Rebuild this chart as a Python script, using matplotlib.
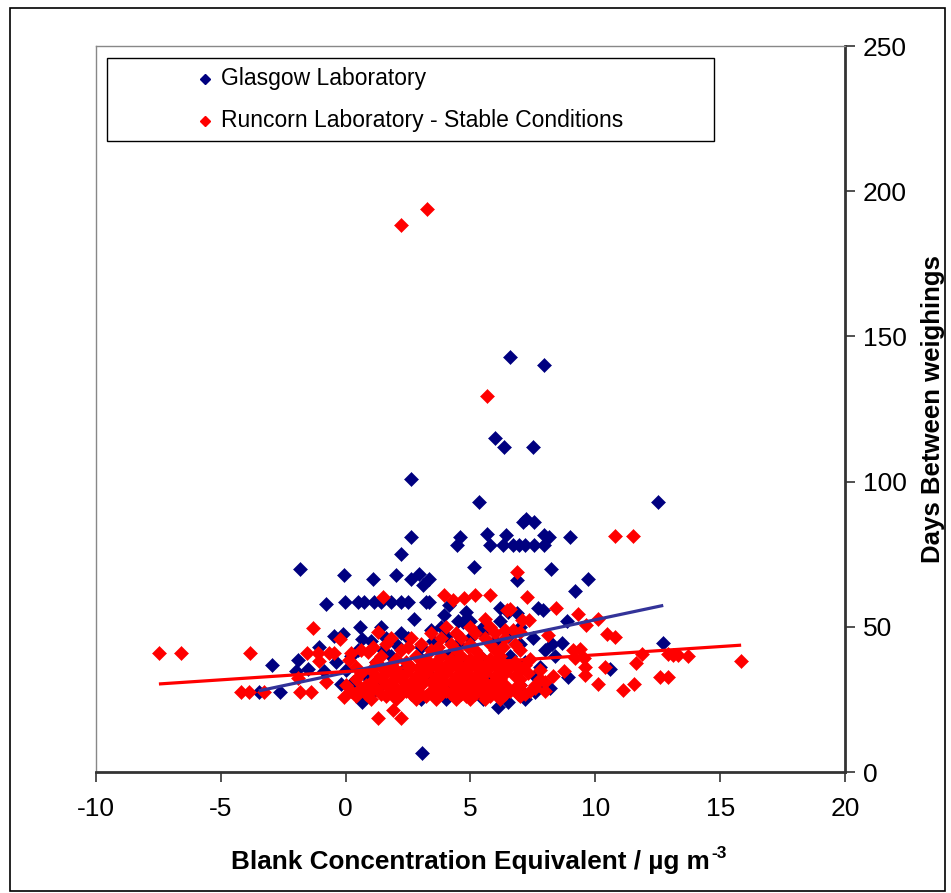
import numpy as np
import matplotlib
matplotlib.use('Agg')
import matplotlib.pyplot as plt
from matplotlib.patches import Rectangle

plt.rcParams['font.family'] = ['Liberation Sans', 'DejaVu Sans']
plt.rcParams['axes.unicode_minus'] = False

# ── Data (x = blank conc. equivalent, y = days) ───────────────────────────────
glasgow_pts = [
    (3.07, 6.5), (6.6, 143), (7.96, 140), (6.0, 115), (6.36, 112), (7.52, 112),
    (2.6, 101), (5.36, 93), (12.5, 93), (7.1, 86), (7.24, 87), (7.56, 86),
    (2.6, 81), (4.56, 81), (5.68, 82), (6.44, 81.5), (7.96, 81.5), (8.16, 81), (9.0, 81),
    (2.2, 75), (4.44, 78), (5.8, 78), (6.32, 78), (6.72, 78), (6.96, 78), (7.2, 78),
    (7.56, 78), (7.96, 78), (5.16, 70.6), (8.24, 70), (-1.84, 70),
    (-0.08, 67.8), (1.08, 66.5), (2.0, 67.8), (2.6, 66.5), (2.92, 68.2), (3.32, 66.5),
    (3.08, 64.4), (9.72, 66.5), (6.88, 66), (9.2, 62.3),
    (-0.8, 58), (-0.04, 58.5), (0.48, 58.5), (0.72, 58.5), (1.12, 58.5), (1.4, 58.5),
    (1.8, 58.5), (2.2, 58.5), (2.48, 58.5), (3.2, 58.5), (3.32, 58.5),
    (4.12, 57.5), (4.8, 55), (4.68, 51.7), (2.72, 52.7), (3.92, 54), (6.2, 56.5),
    (6.52, 55), (6.88, 54.8), (7.72, 56.5), (7.92, 55.8), (8.88, 52),
    (0.56, 50), (1.4, 50), (3.4, 49), (-0.48, 47), (-0.12, 47.5), (-1.08, 43), (0.64, 45.8),
    (-2.96, 37), (-1.92, 38.6), (-1.52, 35.5), (-0.88, 34.8), (-2.0, 34.8), (-0.2, 30.3),
    (-3.48, 27.5), (-2.64, 27.5), (0.64, 24), (12.72, 44.4), (10.6, 35.5), (8.92, 32.7),
    (8.68, 44.4), (8.28, 44), (6.12, 22.4), (7.6, 27.5), (7.8, 30),
    (1.0, 45), (1.5, 42), (2.0, 44), (2.5, 46), (3.0, 43), (3.5, 45), (4.0, 47), (4.5, 44),
    (5.0, 46), (5.5, 48), (6.0, 45), (6.5, 47), (7.0, 44), (7.5, 46), (8.0, 42),
    (1.2, 38), (1.8, 40), (2.4, 36), (3.0, 39), (3.6, 37), (4.2, 41), (4.8, 38), (5.4, 40),
    (6.0, 37), (6.6, 40), (7.2, 38), (7.8, 36), (8.4, 40),
    (0.8, 33), (1.5, 31), (2.2, 34), (2.8, 30), (3.4, 33), (4.0, 29), (4.6, 32), (5.2, 28),
    (5.8, 31), (6.4, 27), (7.0, 30), (7.6, 33), (8.2, 29),
    (1.0, 27), (2.0, 26), (3.0, 25), (3.5, 27), (4.5, 26), (5.5, 25), (6.5, 24), (7.2, 25),
    (2.6, 28), (4.0, 25), (0.2, 40), (0.5, 42), (-0.4, 38), (0.0, 35), (0.3, 31),
    (4.5, 52), (5.5, 50), (6.2, 52), (3.8, 50), (5.0, 52), (7.0, 50), (2.2, 48), (1.6, 46),
]

runcorn_pts = [
    (2.2, 188.4), (3.24, 194), (5.68, 129.5), (10.8, 81.3), (11.52, 81.3), (6.88, 69),
    (-7.48, 41), (-6.6, 41), (-3.84, 41), (-4.2, 27.5), (-3.88, 27.5), (-3.28, 27.5),
    (-1.84, 27.5), (-1.4, 27.5), (-1.32, 49.6), (-0.24, 45.8), (-1.56, 41), (-1.12, 41),
    (-0.68, 41), (-0.48, 41), (0.2, 41), (-1.08, 38.2), (-0.8, 31), (-1.92, 32.4),
    (-0.08, 25.8), (0.12, 38.6),
    (1.48, 60.3), (3.92, 61), (4.28, 59.2), (4.72, 60), (5.2, 61), (5.8, 61), (6.48, 55.8),
    (5.6, 52.7), (1.28, 48.2), (1.8, 46), (0.88, 41.3), (7.28, 60.3), (8.44, 56.5),
    (6.6, 56), (9.32, 54.4), (10.12, 52.7), (9.64, 50.6), (7.36, 52.3), (7.08, 52.3),
    (10.48, 47.5), (10.8, 46.5), (6.4, 49), (6.72, 49), (7.0, 48.2), (11.88, 40.6),
    (11.64, 37.5), (12.92, 40.6), (10.4, 36.2), (9.6, 36.2), (9.6, 33.4), (10.12, 30.3),
    (11.12, 28.2), (11.56, 30.3), (12.6, 32.7), (12.92, 32.7), (8.76, 34.8), (9.12, 42),
    (9.4, 42.4), (9.2, 39.3), (9.56, 39.3), (8.1, 47.2), (13.12, 40.3), (13.32, 40.3),
    (13.72, 40), (15.84, 38.2), (1.28, 18.6), (1.88, 21.3), (2.2, 18.6),
    # dense core
    (1.0, 25), (2.0, 25), (2.8, 25), (3.6, 25), (4.4, 25), (5.0, 25), (5.6, 25), (6.2, 25),
    (0.4, 26), (1.6, 26), (3.2, 26), (4.8, 26), (5.8, 26), (7.0, 26),
    (0.8, 27), (1.4, 27), (2.2, 27), (2.6, 27), (3.0, 27), (3.8, 27), (4.2, 27), (4.6, 27),
    (5.2, 27), (5.8, 27), (6.4, 27), (7.2, 27),
    (0.2, 28), (1.0, 28), (1.8, 28), (2.4, 28), (3.4, 28), (4.0, 28), (4.8, 28), (5.4, 28),
    (6.0, 28), (6.6, 28), (7.4, 28), (8.0, 28),
    (0.6, 29), (1.2, 29), (2.0, 29), (2.8, 29), (3.6, 29), (4.4, 29), (5.0, 29), (5.6, 29),
    (6.2, 29), (6.8, 29),
    (0.0, 30), (0.8, 30), (1.6, 30), (2.4, 30), (3.0, 30), (3.8, 30), (4.6, 30), (5.2, 30),
    (5.8, 30), (6.4, 30), (7.0, 30), (7.6, 30),
    (1.0, 31), (1.8, 31), (2.6, 31), (3.4, 31), (4.2, 31), (5.0, 31), (5.6, 31), (6.0, 31),
    (0.4, 32), (1.4, 32), (2.2, 32), (3.0, 32), (3.8, 32), (4.6, 32), (5.4, 32), (6.2, 32),
    (7.0, 32), (7.8, 32),
    (1.2, 33), (2.0, 33), (2.8, 33), (3.6, 33), (4.4, 33), (5.2, 33), (6.0, 33), (6.8, 33),
    (0.6, 34), (1.6, 34), (2.4, 34), (3.2, 34), (4.0, 34), (4.8, 34), (5.6, 34), (6.4, 34),
    (1.0, 35), (2.0, 35), (3.0, 35), (3.8, 35), (4.6, 35), (5.4, 35), (6.2, 35), (7.0, 35),
    (7.8, 35),
    (0.4, 36), (1.4, 36), (2.6, 36), (3.4, 36), (4.2, 36), (5.0, 36), (5.8, 36), (6.6, 36),
    (1.8, 37), (3.0, 37), (4.0, 37), (4.8, 37), (5.6, 37), (6.4, 37), (7.2, 37),
    (1.2, 38), (2.4, 38), (3.6, 38), (4.4, 38), (5.2, 38), (6.0, 38), (6.8, 38),
    (2.0, 39), (3.2, 39), (4.2, 39), (5.0, 39), (5.8, 39), (7.4, 39),
    (1.4, 40), (2.8, 40), (3.8, 40), (4.6, 40), (5.4, 40), (6.2, 40),
    (0.6, 42), (2.2, 42), (3.4, 42), (4.4, 42), (5.2, 42), (6.0, 42), (7.0, 42),
    (1.6, 44), (3.0, 44), (4.2, 44), (5.0, 44), (5.8, 44), (6.8, 44),
    (2.6, 46), (3.8, 46), (4.6, 46), (5.6, 46), (6.4, 46),
    (3.4, 48), (4.4, 48), (5.2, 48), (6.0, 48),
    (4.0, 50), (5.0, 50), (5.8, 50),
    (1.1, 43), (2.5, 43), (3.7, 43), (4.9, 43), (6.3, 43),
    (6.9, 27), (7.6, 29), (8.0, 31), (7.3, 34), (8.3, 33),
]

# linear trend lines as shown on the chart: (slope, intercept)
glasgow_trend = (1.816, 34.26)
runcorn_trend = (0.573, 34.6)

series_labels = ['Glasgow Laboratory', 'Runcorn Laboratory - Stable Conditions']
x_ticks = [-10, -5, 0, 5, 10, 15, 20]
y_ticks = [0, 50, 100, 150, 200, 250]

C_GLASGOW = '#000080'
C_RUNCORN = '#FF0000'
C_GTREND = '#333399'


def main():
    fig = plt.figure(figsize=(9.51, 8.93), dpi=100)
    ax = fig.add_axes([96 / 951, 1 - 772 / 893, 749 / 951, 726 / 893])

    g = np.array(glasgow_pts)
    r = np.array(runcorn_pts)

    ax.plot(g[:, 0], g[:, 1], 'D', ms=6.8, color=C_GLASGOW, mew=0.4, ls='none')
    ax.plot(r[:, 0], r[:, 1], 'D', ms=6.8, color=C_RUNCORN, mew=0.4, ls='none')

    # trend lines across each series' x range
    for pts, (m, b), col in [(g, glasgow_trend, C_GTREND), (r, runcorn_trend, C_RUNCORN)]:
        xs = np.array([pts[:, 0].min(), pts[:, 0].max()])
        ax.plot(xs, m * xs + b, color=col, lw=2.3, solid_capstyle='butt')

    ax.set_xlim(-10, 20)
    ax.set_ylim(0, 250)
    ax.set_xticks(x_ticks)
    ax.set_yticks(y_ticks)

    ax.yaxis.tick_right()
    ax.yaxis.set_label_position('right')
    ax.tick_params(axis='both', direction='out', length=7, width=1.2,
                   labelsize=19, color='#333333')
    ax.tick_params(axis='x', pad=11)
    ax.tick_params(axis='y', pad=6)

    for side in ['left', 'top']:
        ax.spines[side].set_color('#888888')
        ax.spines[side].set_linewidth(1.0)
    for side in ['right', 'bottom']:
        ax.spines[side].set_color('#333333')
        ax.spines[side].set_linewidth(2.0)

    xl = ax.set_xlabel('Blank Concentration Equivalent / µg m',
                       fontsize=18.8, fontweight='bold', labelpad=21)
    ax.set_ylabel('Days Between weighings', fontsize=18.5, fontweight='bold',
                  labelpad=10)

    # ── Legend (framed box, markers set in from the left) ───────────────────
    ax.add_patch(Rectangle((11 / 749, 1 - 83 / 726 - 12 / 726), 607 / 749, 83 / 726,
                           transform=ax.transAxes, fill=False, ec='black', lw=1.0,
                           zorder=5))
    for i, (lbl, col) in enumerate(zip(series_labels, [C_GLASGOW, C_RUNCORN])):
        ly = (772 - (79 + 42 * i)) / 726
        ax.plot([(205 - 96) / 749], [ly], 'D', ms=5.3, color=col,
                transform=ax.transAxes, clip_on=False, zorder=6)
        ax.text((221 - 96) / 749, ly, lbl, transform=ax.transAxes,
                fontsize=16.5, va='center', ha='left', zorder=6)

    # superscript "-3" after the x label
    fig.canvas.draw()
    bb = xl.get_window_extent()
    fig.text((bb.x1 + 1) / fig.bbox.width, (bb.y1 + 4) / fig.bbox.height, '-3',
             fontsize=12.5, fontweight='bold', ha='left', va='top')

    # figure border
    fig.patches.append(Rectangle((10 / 951, 2 / 893), 935 / 951, 883 / 893,
                                 transform=fig.transFigure, fill=False,
                                 ec='black', lw=1.2))

    fig.savefig('out.png', dpi=100)
    plt.close(fig)


if __name__ == '__main__':
    main()
